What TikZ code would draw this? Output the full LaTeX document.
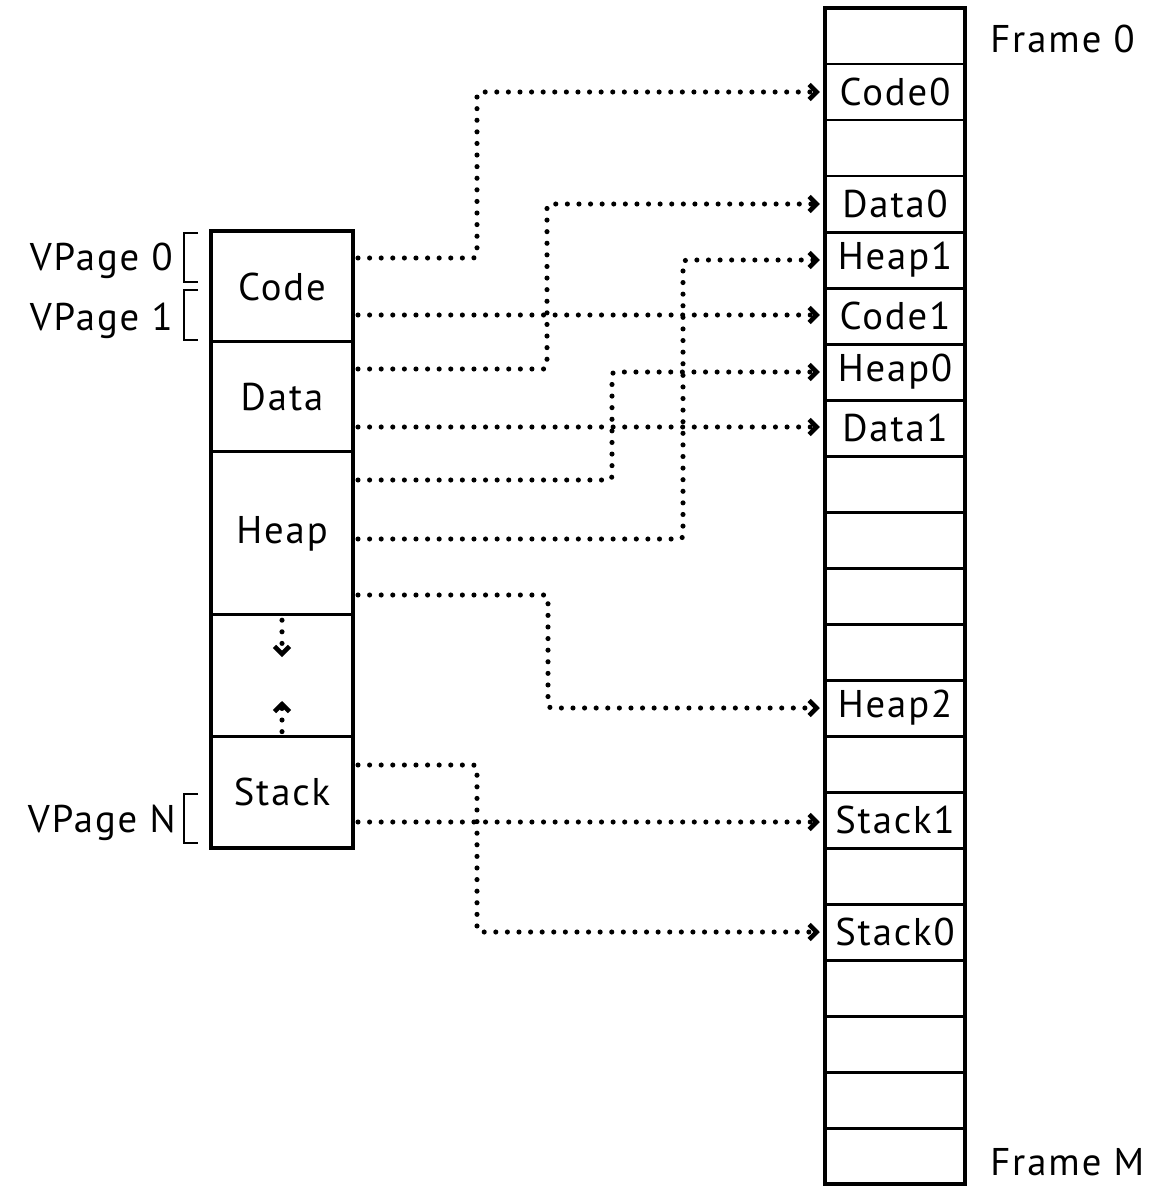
\documentclass[tikz,border=0pt]{standalone}
\usepackage{fontspec}
\setmainfont{PT Sans}[LetterSpace=5]
\usetikzlibrary{arrows.meta}

\tikzset{
  frame/.style={draw, line width=1.7pt, minimum width=2.8cm, minimum height=1.12cm, inner sep=0pt, outer sep=0pt},
  seg/.style={draw, line width=1.7pt, minimum width=2.84cm, inner sep=0pt, outer sep=0pt, anchor=north},
  link/.style={line width=2.9pt, line cap=round, dash pattern=on 0pt off 6.6pt, rounded corners=2pt,
    -{Straight Barb[length=4.2pt,width=8.5pt,line width=2.6pt]}, shorten >=3pt},
  bracket/.style={line width=1.2pt},
  lbl/.style={font=\fontsize{22}{26}\selectfont}
}

\begin{document}
\begin{tikzpicture}[x=0.02cm, y=-0.02cm]
\useasboundingbox (0,0) rectangle (1168,1186);

% physical frames
\foreach \lab [count=\i from 0] in {{},Code0,{},Data0,Heap1,Code1,Heap0,Data1,{},{},{},{},Heap2,{},Stack1,{},Stack0,{},{},{},{}}
  \node[frame, lbl] (f\i) at (895,36+56*\i) {\lab};
\draw[line width=2.6pt] (f0.north west) rectangle (f20.south east);
\node[lbl, inner sep=0pt, anchor=base west] (ftop) at (990,53) {Frame 0};
\node[lbl, inner sep=0pt, anchor=base west] (fbot) at (990,1175) {Frame M};

% virtual pages
\node[seg, lbl, minimum height=2.22cm] (code) at (282,231) {Code};
\node[seg, lbl, minimum height=2.2cm] (data) at (code.south) {Data};
\node[seg, lbl, minimum height=3.26cm] (heap) at (data.south) {Heap};
\node[seg, minimum height=2.44cm] (gap) at (heap.south) {};
\node[seg, lbl, minimum height=2.22cm] (stack) at (gap.south) {Stack};
\draw[line width=2.6pt] (code.north west) rectangle (stack.south east);

\node[lbl, inner sep=0pt, anchor=base east] (vp0) at (173,270) {VPage 0};
\node[lbl, inner sep=0pt, anchor=base east] (vp1) at (173,330) {VPage 1};
\node[lbl, inner sep=0pt, anchor=base east] (vpn) at (176,832) {VPage N};
\draw[bracket] (198,233) -| (184,282) -- (198,282);
\draw[bracket] (198,290) -| (184,340) -- (198,340);
\draw[bracket] (198,794) -| (184,843) -- (198,843);

% mappings
\coordinate (code-a) at (358,258);
\coordinate (code-b) at (358,315);
\coordinate (data-a) at (358,369);
\coordinate (data-b) at (358,427);
\coordinate (heap-a) at (358,480);
\coordinate (heap-b) at (358,539);
\coordinate (heap-c) at (358,595);
\coordinate (stack-a) at (358,765);
\coordinate (stack-b) at (358,822);

\draw[link] (code-a) -| (477,0 |- f1.west) -- (f1.west);
\draw[link] (code-b) -- (code-b -| f5.west);
\draw[link] (data-a) -| (547,0 |- f3.west) -- (f3.west);
\draw[link] (data-b) -- (data-b -| f7.west);
\draw[link] (heap-a) -| (612,0 |- f6.west) -- (f6.west);
\draw[link] (heap-b) -| (683,0 |- f4.west) -- (f4.west);
\draw[link] (heap-c) -| (548,0 |- f12.west) -- (f12.west);
\draw[link] (stack-a) -| (477,0 |- f16.west) -- (f16.west);
\draw[link] (stack-b) -- (stack-b -| f14.west);

% growth
\coordinate (grow-d) at (282,657);
\coordinate (grow-u) at (282,701);
\draw[link, shorten >=0pt, shorten <=3pt] (gap.north) -- (grow-d);
\draw[link, shorten >=0pt, shorten <=3pt] (gap.south) -- (grow-u);
\end{tikzpicture}
\end{document}
